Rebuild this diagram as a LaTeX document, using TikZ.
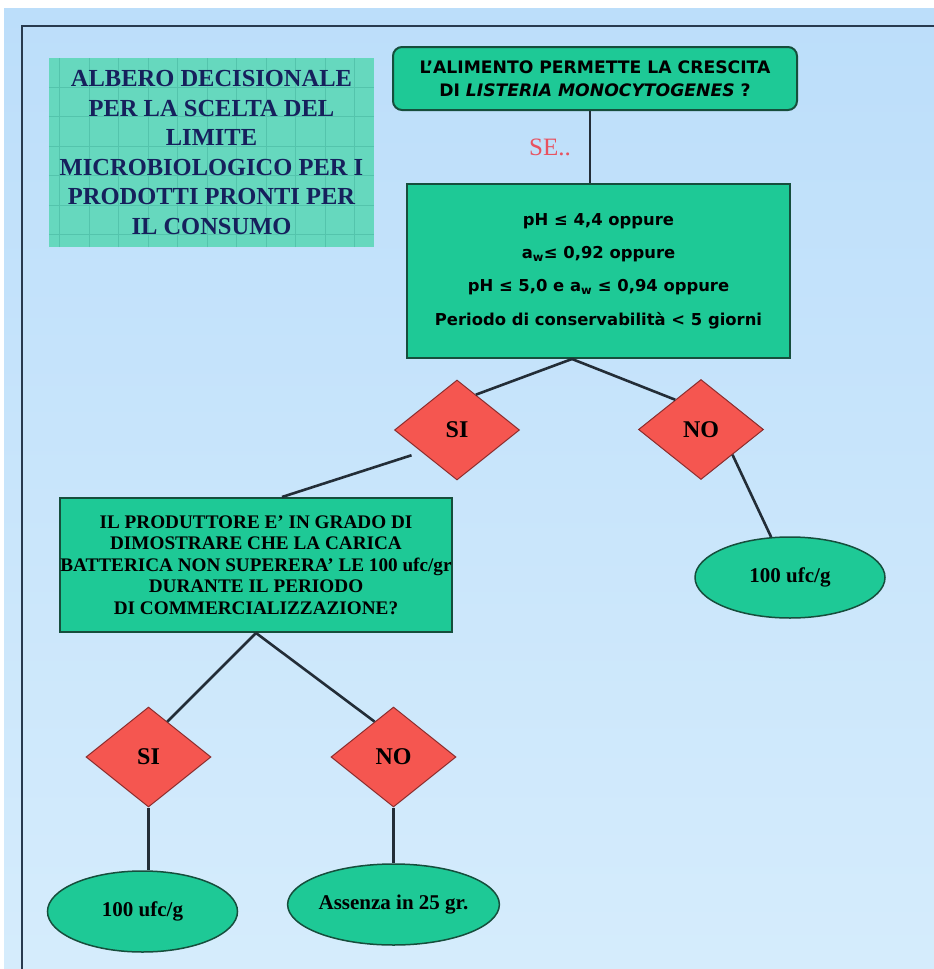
\documentclass[tikz,border=0pt]{standalone}
\usepackage{fontspec}
\setmainfont{Liberation Serif}
\newfontfamily\dvs{DejaVu Sans}
\usetikzlibrary{shapes.geometric,calc}
\definecolor{bgtop}{RGB}{188,222,250}
\definecolor{bgbot}{RGB}{213,236,252}
\definecolor{framec}{RGB}{40,58,78}
\definecolor{boxgreen}{RGB}{30,201,150}
\definecolor{boxedge}{RGB}{22,78,60}
\definecolor{titlefill}{RGB}{102,216,190}
\definecolor{titlegrid}{RGB}{84,196,172}
\definecolor{titletext}{RGB}{22,32,92}
\definecolor{diafill}{RGB}{245,86,80}
\definecolor{diaedge}{RGB}{140,45,45}
\definecolor{connc}{RGB}{35,45,55}
\definecolor{sered}{RGB}{232,82,96}
\tikzset{
  greenbox/.style={rectangle, draw=boxedge, line width=2pt, fill=boxgreen, inner sep=0pt, align=center},
  titlebox/.style={rectangle, fill=titlefill, inner sep=0pt, align=center, text=titletext,
    minimum width=325pt, minimum height=189pt,
    font={\bfseries\fontsize{24.5}{29.6}\selectfont},
    path picture={\draw[titlegrid, line width=0.8pt] ([xshift=-3pt]path picture bounding box.south west) grid[step=29.5pt] (path picture bounding box.north east);}},
  choice/.style={diamond, draw=diaedge, line width=1pt, fill=diafill, inner sep=0pt,
    minimum width=125pt, minimum height=100pt, font={\bfseries\fontsize{24}{28}\selectfont}},
  result/.style={ellipse, draw=boxedge, line width=1.5pt, fill=boxgreen, inner sep=0pt,
    minimum width=190pt, minimum height=81pt, font={\bfseries\fontsize{21}{24}\selectfont}},
  conn/.style={draw=connc, line width=2.6pt}
}
\begin{document}
\begin{tikzpicture}[x=1pt,y=-1pt]
\useasboundingbox (0,0) rectangle (934,969);
\fill[white] (0,0) rectangle (934,969);
\shade[top color=bgtop, bottom color=bgbot] (4,8) rectangle (934,969);
\draw[framec, line width=2.8pt] (22,969) -- (22,26) -- (934,26);

% title
\node[titlebox] (title) at (211.5,152.5) {ALBERO DECISIONALE\\PER LA SCELTA DEL\\LIMITE\\MICROBIOLOGICO PER I\\PRODOTTI PRONTI PER\\IL CONSUMO};

% top question
\node[greenbox, rounded corners=9pt, minimum width=404pt, minimum height=63pt,
  font={\dvs\bfseries\fontsize{17.2}{23.5}\selectfont}] (top) at (595,78.5)
  {L’ALIMENTO PERMETTE LA CRESCITA\\DI \textit{LISTERIA MONOCYTOGENES} ?};

\node[text=sered, font={\fontsize{25}{28}\selectfont}] (se) at (550,147) {SE..};

% conditions
\node[greenbox, minimum width=383pt, minimum height=174pt,
  font={\dvs\bfseries\fontsize{16.4}{33.3}\selectfont}] (cond) at (598.5,271)
  {\rule{0pt}{12pt}pH ≤ 4,4 oppure\\a\textsubscript{w}≤ 0,92 oppure\\pH ≤ 5,0 e a\textsubscript{w} ≤ 0,94 oppure\\Periodo di conservabilità < 5 giorni};

\node[choice] (si1) at (457,430) {SI};
\node[choice] (no1) at (701,429.5) {NO};

\node[result] (res1) at (790,577.5) {100 ufc/g};

% producer question
\node[greenbox, minimum width=392pt, minimum height=134pt,
  font={\bfseries\fontsize{19.2}{21.4}\selectfont}] (prod) at (256,565)
  {IL PRODUTTORE E’ IN GRADO DI\\DIMOSTRARE CHE LA CARICA\\BATTERICA NON SUPERERA’ LE 100 ufc/gr\\DURANTE IL PERIODO\\DI COMMERCIALIZZAZIONE?};

\node[choice] (si2) at (148.5,757) {SI};
\node[choice] (no2) at (393.5,757) {NO};

\node[result] (res2) at (142.5,911.5) {100 ufc/g};
\node[result] (res3) at (393.5,904.5) {Assenza in 25 gr.};

% connectors
\coordinate (cj) at ([xshift=-26.5pt]cond.south);
\draw[conn] ([xshift=-5pt]top.south) -- ([xshift=-8.5pt]cond.north);
\draw[conn] (cj) -- ($(si1.north)!0.3!(si1.east)$);
\draw[conn] (cj) -- ($(no1.north)!0.41!(no1.west)$);
\draw[conn] ([xshift=-14pt]si1.south west) -- ([xshift=26pt]prod.north);
\draw[conn] (no1.south east) -- (res1.115);
\draw[conn] (prod.south) -- ($(si2.north)!0.3!(si2.east)$);
\draw[conn] (prod.south) -- ($(no2.north)!0.3!(no2.west)$);
\draw[conn] (si2.south) -- (si2.south |- res2.north);
\draw[conn] (no2.south) -- (res3.north);
\end{tikzpicture}
\end{document}
